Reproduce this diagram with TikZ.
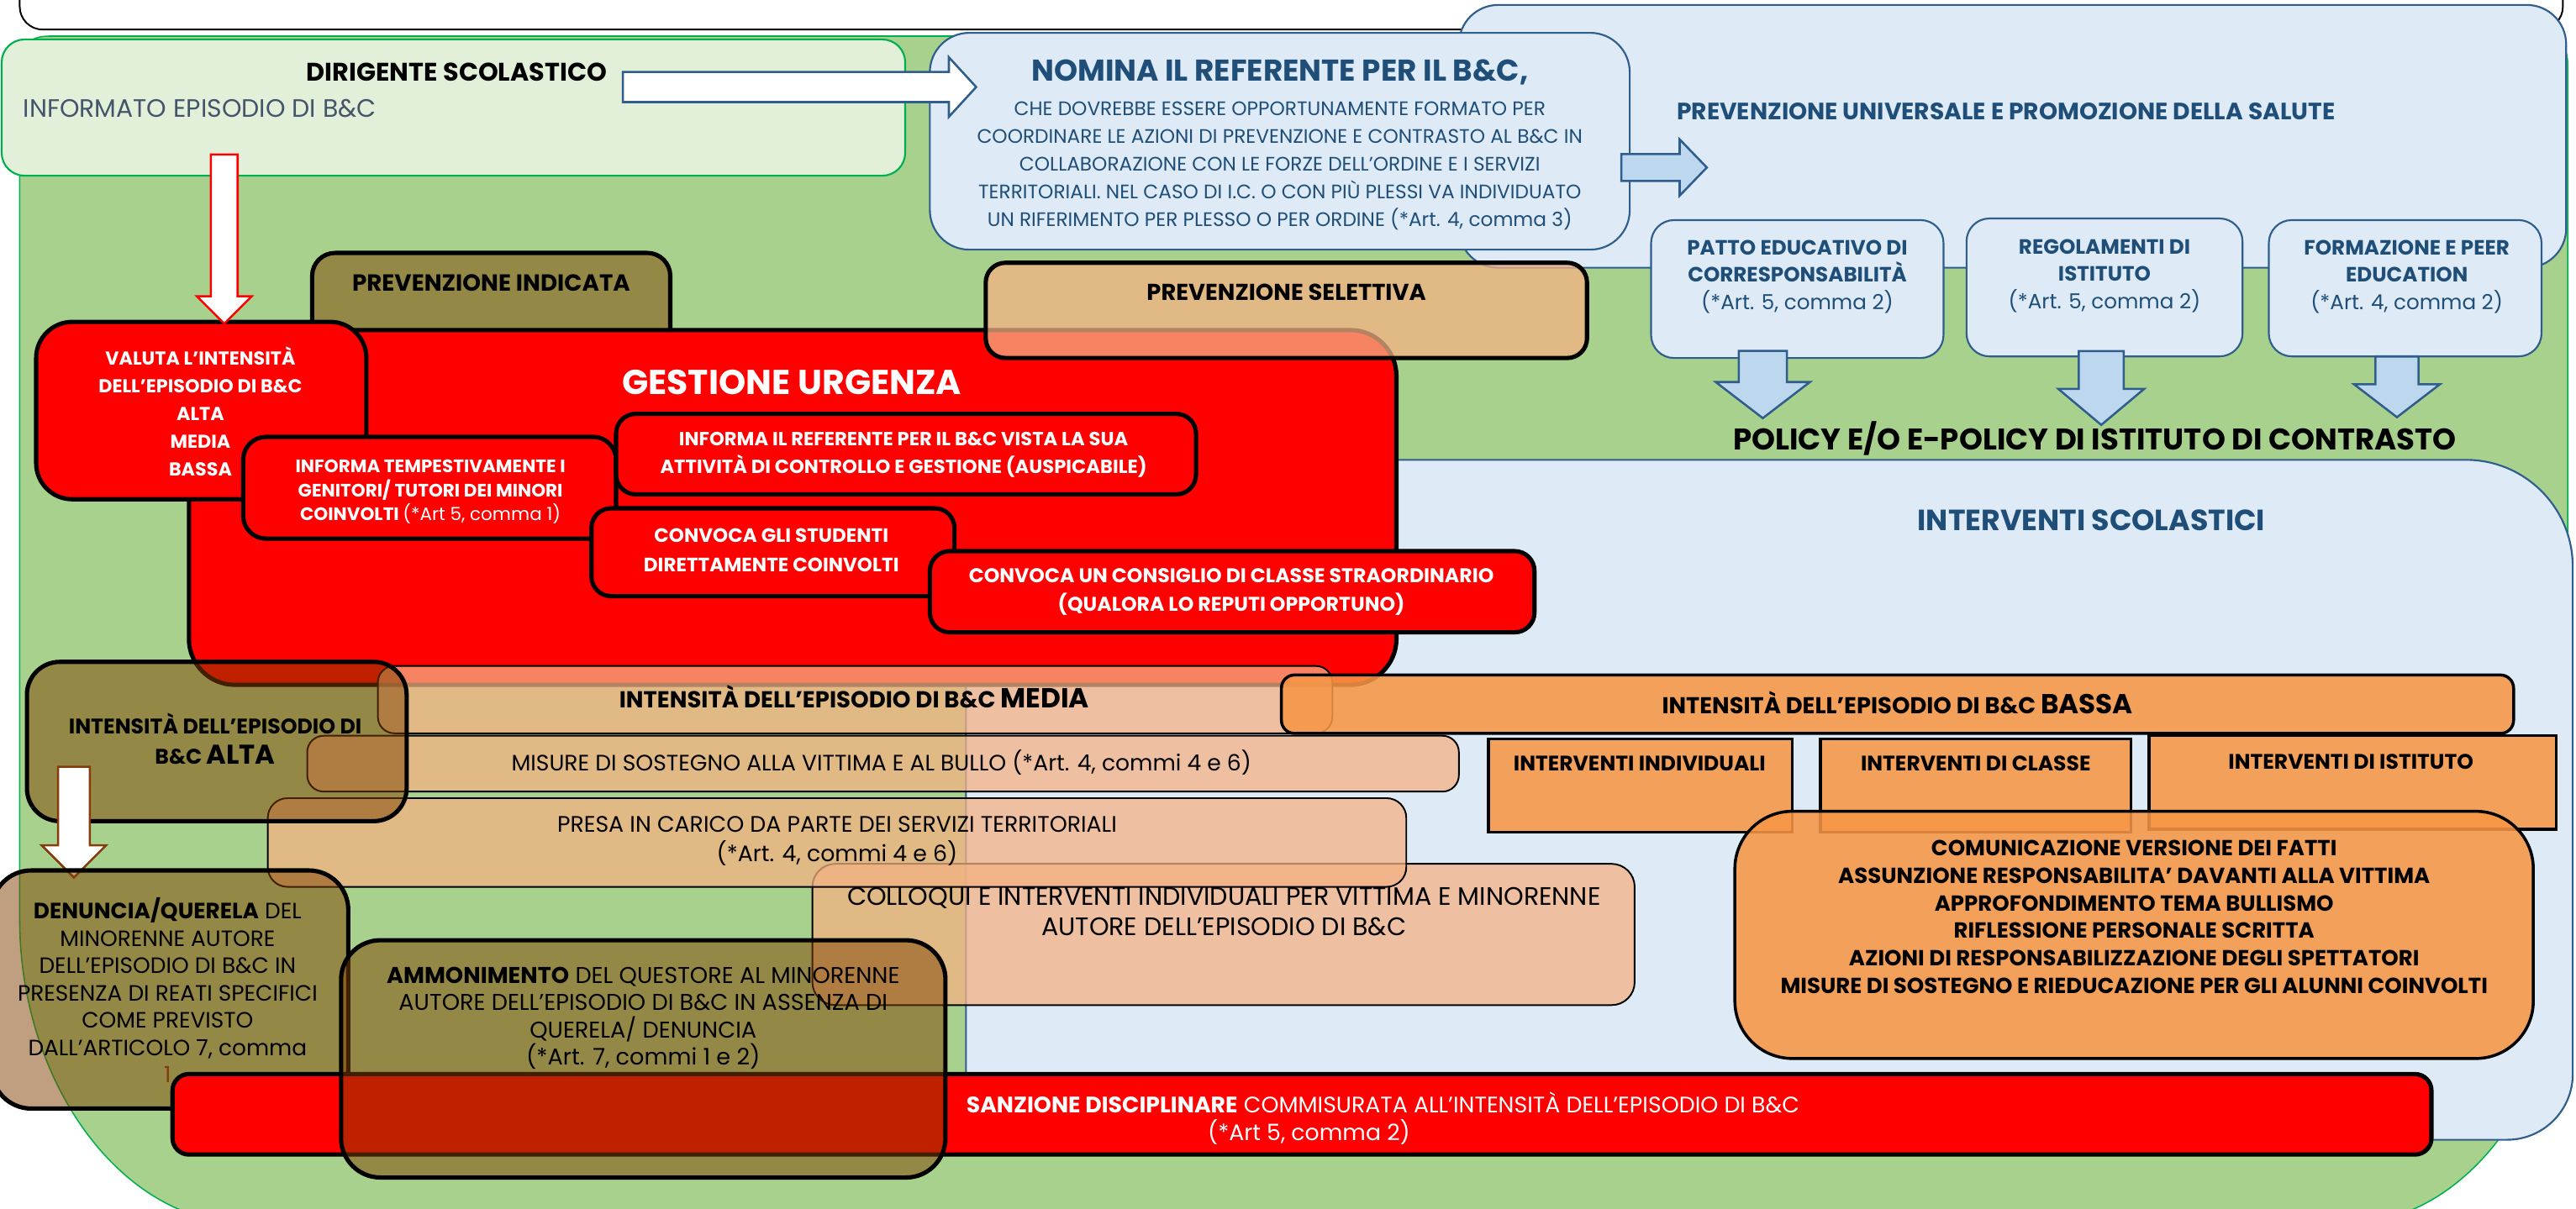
\documentclass[tikz,border=0pt]{standalone}
\usepackage{fontspec}
\setmainfont{Poppins}
\usepackage{tikz}
\usetikzlibrary{fit}
\usetikzlibrary{shapes.arrows}

\definecolor{verde}{HTML}{A9D18E}
\definecolor{verdeln}{HTML}{00B050}
\definecolor{verdech}{HTML}{E2F0D9}
\definecolor{azz}{HTML}{DEEBF7}
\definecolor{azzln}{HTML}{2F5D8C}
\definecolor{azzfr}{HTML}{BDD7EE}
\definecolor{blu}{HTML}{1F4E79}
\definecolor{ardesia}{HTML}{44546A}
\definecolor{marrone}{HTML}{804000}
\definecolor{marroneln}{HTML}{843C0C}
\definecolor{pesca}{HTML}{F4B183}
\definecolor{arancio}{HTML}{F79646}

\newcommand{\fs}[2]{\fontsize{#1}{#2}\selectfont}

\tikzset{
  azzbox/.style={draw=azzln, fill=azz, line width=1.1pt, inner sep=0pt, rounded corners=#1},
  azzbox/.default=14pt,
  rosso/.style={draw=black, fill=red, line width=2.6pt, inner sep=0pt, rounded corners=#1},
  rosso/.default=12pt,
  bruno/.style={draw=black, fill=marrone, fill opacity=0.5, line width=2.6pt, inner sep=0pt, rounded corners=#1},
  bruno/.default=20pt,
  pescabox/.style={draw=black, fill=pesca, fill opacity=0.74, line width=1pt, inner sep=0pt, rounded corners=#1},
  pescabox/.default=10pt,
  arancbox/.style={draw=black, fill=arancio, fill opacity=0.88, line width=1.8pt, inner sep=0pt, rounded corners=#1},
  arancbox/.default=0pt,
  txt/.style={inner sep=0pt, align=center},
  freccia/.style={single arrow, inner xsep=0pt, single arrow head indent=0pt, line width=1.3pt}
}

\begin{document}
\begin{tikzpicture}[x=1pt, y=-1pt]
  \useasboundingbox (0,0) rectangle (1568,736);
  \clip (0,0) rectangle (1568,736);

  \draw[fill=white, line width=1pt, rounded corners=14pt] (12,-30) rectangle (1560,18);
  \draw[fill=verde, draw=verdeln, line width=0.8pt] (12,40) .. controls (12,28) and (18,22) .. (30,22)
    -- (1546,22) .. controls (1558,22) and (1563,28) .. (1563,40) -- (1563,560)
    .. controls (1563,659) and (1504,745) .. (1428,745) -- (150,745)
    .. controls (74,745) and (12,659) .. (12,560) -- cycle;

  \node[azzbox=24pt, fit={(888,3) (1562,163)}] (puni) {};
  \node[txt, text=blu, font=\bfseries\fs{14.4}{17}] (puniT) at (1221,68) {PREVENZIONE UNIVERSALE E PROMOZIONE DELLA SALUTE};

  \node[draw=verdeln, fill=verdech, line width=1.1pt, rounded corners=14pt, inner sep=0pt, fit={(1,24) (551,107)}] (dir) {};
  \node[txt, font=\bfseries\fs{15.5}{18}] (dirT) at (278,44) {DIRIGENTE SCOLASTICO};
  \node[txt, anchor=west, text=ardesia, font=\fs{15.3}{17}] (dirS) at (14,66) {INFORMATO EPISODIO DI B\&C};

  \node[azzbox=24pt, fit={(566,20) (992,152)}] (nom) {};
  \node[txt, text=blu, font=\bfseries\fs{18.3}{20}] (nomT) at (779,44) {NOMINA IL REFERENTE PER IL B\&C,};
  \node[txt, text=blu, font=\fs{11.9}{17}] (nomS) at (779,101) {CHE DOVREBBE ESSERE OPPORTUNAMENTE FORMATO PER\\COORDINARE LE AZIONI DI PREVENZIONE E CONTRASTO AL B\&C IN\\COLLABORAZIONE CON LE FORZE DELL’ORDINE E I SERVIZI\\TERRITORIALI. NEL CASO DI I.C. O CON PIÙ PLESSI VA INDIVIDUATO\\UN RIFERIMENTO PER PLESSO O PER ORDINE (*Art. 4, comma 3)};

  \node[freccia, draw=azzln, fill=white, inner ysep=8.5pt, minimum height=215pt, single arrow head extend=9pt, single arrow tip angle=95] (a1) at (482.5,53) {};
  \node[freccia, draw=azzln, fill=azzfr, inner ysep=7.5pt, minimum height=52pt, single arrow head extend=9pt, single arrow tip angle=92] (a2) at (1009,102) {};

  \node[azzbox, fit={(1005,134) (1183,218)}] (pat) {};
  \node[txt, text=blu, font=\bfseries\fs{12.6}{16.5}] (patT) at (1094,168.5) {PATTO EDUCATIVO DI\\CORRESPONSABILITÀ\\{\mdseries(*Art. 5, comma 2)}};
  \node[azzbox, fit={(1197,133) (1365,217)}] (reg) {};
  \node[txt, text=blu, font=\bfseries\fs{12.6}{16.5}] (regT) at (1281,168) {REGOLAMENTI DI\\ISTITUTO\\{\mdseries(*Art. 5, comma 2)}};
  \node[azzbox, fit={(1381,134) (1547,217)}] (frm) {};
  \node[txt, text=blu, font=\bfseries\fs{12.6}{16.5}] (frmT) at (1465,168.5) {FORMAZIONE E PEER\\EDUCATION\\{\mdseries(*Art. 4, comma 2)}};

  \node[freccia, draw=azzln, fill=azzfr, rotate=-90, inner ysep=14pt, minimum height=41pt, single arrow head extend=14pt, single arrow tip angle=105] (a3) at (1073,228.5) {};
  \node[freccia, draw=azzln, fill=azzfr, rotate=-90, inner ysep=13pt, minimum height=45pt, single arrow head extend=12.5pt, single arrow tip angle=100] (a4) at (1279,230.5) {};
  \node[freccia, draw=azzln, fill=azzfr, rotate=-90, inner ysep=12.5pt, minimum height=37pt, single arrow head extend=13pt, single arrow tip angle=105] (a5) at (1459,230.5) {};

  \node[txt, font=\bfseries\fs{18.2}{20}] (pol) at (1275,267) {POLICY E/O E-POLICY DI ISTITUTO DI CONTRASTO};

  \draw[draw=azzln, fill=azz, line width=1.1pt] (588,500) [rounded corners=20pt] -- (588,280)
    [rounded corners=65pt] -- (1566,280) [rounded corners=40pt] -- (1566,694)
    [rounded corners=20pt] -- (588,694) -- cycle;
  \node[txt, text=blu, font=\bfseries\fs{17.8}{20}] (scolT) at (1273,317) {INTERVENTI SCOLASTICI};

  \node[bruno=14pt, fit={(190,154) (408,230)}] (pind) {};
  \node[txt, font=\bfseries\fs{14.2}{17}] (pindT) at (299,172) {PREVENZIONE INDICATA};

  \node[rosso=28pt, fit={(115,201) (850,417)}] (ges) {};
  \node[txt, text=white, font=\bfseries\fs{21}{24}] (gesT) at (482,233) {GESTIONE URGENZA};

  \node[rosso=22pt, fit={(22,196) (223,304)}] (val) {};
  \node[txt, text=white, font=\bfseries\fs{11.4}{17}] (valT) at (122,250.5) {VALUTA L’INTENSITÀ\\DELL’EPISODIO DI B\&C\\ALTA\\MEDIA\\BASSA};

  \node[rosso=14pt, fit={(148,266) (375,328)}] (inft) {};
  \node[txt, text=white, font=\bfseries\fs{11}{14.5}] (inftT) at (262,299.5) {INFORMA TEMPESTIVAMENTE I\\GENITORI/ TUTORI DEI MINORI\\COINVOLTI {\mdseries(*Art 5, comma 1)}};

  \node[rosso, fit={(375,252) (728,301)}] (infr) {};
  \node[txt, text=white, font=\bfseries\fs{11.6}{16.8}] (infrT) at (550,277) {INFORMA IL REFERENTE PER IL B\&C VISTA LA SUA\\ATTIVITÀ DI CONTROLLO E GESTIONE (AUSPICABILE)};

  \node[rosso, fit={(360,309.5) (581,363)}] (cstu) {};
  \node[txt, text=white, font=\bfseries\fs{11.8}{17.5}] (cstuT) at (469.5,335) {CONVOCA GLI STUDENTI\\DIRETTAMENTE COINVOLTI};

  \node[rosso, fit={(566,335.6) (934,385)}] (ccon) {};
  \node[txt, text=white, font=\bfseries\fs{12.1}{17.4}] (cconT) at (749.5,360.3) {CONVOCA UN CONSIGLIO DI CLASSE STRAORDINARIO\\(QUALORA LO REPUTI OPPORTUNO)};

  \node[freccia, draw=red, fill=white, rotate=-90, inner ysep=7.5pt, minimum height=103pt, single arrow head extend=8.5pt, single arrow tip angle=90] (a6) at (136.5,141.5) {};

  \node[pescabox=12pt, draw=black, line width=2.6pt, fit={(600,160) (966,218)}] (psel) {};
  \node[txt, font=\bfseries\fs{14}{16}] (pselT) at (783,178) {PREVENZIONE SELETTIVA};

  \node[pescabox=14pt, fit={(494.5,526) (995,612)}] (col) {};
  \node[txt, font=\fs{15.4}{18.4}] (colT) at (745,555) {COLLOQUI E INTERVENTI INDIVIDUALI PER VITTIMA E MINORENNE\\AUTORE DELL’EPISODIO DI B\&C};

  \node[pescabox=12pt, fit={(163,486) (856,540)}] (pre) {};
  \node[txt, font=\fs{13.7}{17.7}] (preT) at (509.5,512) {PRESA IN CARICO DA PARTE DEI SERVIZI TERRITORIALI\\(*Art. 4, commi 4 e 6)};

  \node[pescabox, fit={(187,448) (888,482)}] (mis) {};
  \node[txt, font=\fs{13.6}{14}] (misT) at (536.5,464.5) {MISURE DI SOSTEGNO ALLA VITTIMA E AL BULLO (*Art. 4, commi 4 e 6)};

  \node[pescabox, fit={(230,405.5) (811,446.5)}] (med) {};
  \node[txt, font=\bfseries\fs{14.1}{16}] (medT) at (520,424) {INTENSITÀ DELL’EPISODIO DI B\&C {\fs{16.8}{16}MEDIA}};

  \node[arancbox=8pt, fit={(780,411) (1530,446.6)}] (bas) {};
  \node[txt, font=\bfseries\fs{14}{16}] (basT) at (1155,428) {INTENSITÀ DELL’EPISODIO DI B\&C {\fs{16.7}{16}BASSA}};

  \node[arancbox, fit={(906,450) (1091,506.6)}] (ind) {};
  \node[txt, font=\bfseries\fs{12.8}{14}] (indT) at (998,465) {INTERVENTI INDIVIDUALI};
  \node[arancbox, fit={(1108,450) (1297,506.6)}] (cla) {};
  \node[txt, font=\bfseries\fs{12.8}{14}] (claT) at (1202.6,465) {INTERVENTI DI CLASSE};
  \node[arancbox, fit={(1308,448) (1556,505)}] (ist) {};
  \node[txt, font=\bfseries\fs{12.8}{14}] (istT) at (1431,464) {INTERVENTI DI ISTITUTO};

  \node[arancbox=35pt, fit={(1056,494) (1542,644.5)}] (lst) {};
  \node[txt, font=\bfseries\fs{13.3}{16.7}] (lstT) at (1299,558.3) {COMUNICAZIONE VERSIONE DEI FATTI\\ASSUNZIONE RESPONSABILITA’ DAVANTI ALLA VITTIMA\\APPROFONDIMENTO TEMA BULLISMO\\RIFLESSIONE PERSONALE SCRITTA\\AZIONI DI RESPONSABILIZZAZIONE DEGLI SPETTATORI\\MISURE DI SOSTEGNO E RIEDUCAZIONE PER GLI ALUNNI COINVOLTI};

  \node[bruno, fit={(16.4,403) (247.5,500)}] (alt) {};
  \node[txt, font=\bfseries\fs{12.9}{18.5}] (altT) at (131,450) {INTENSITÀ DELL’EPISODIO DI\\B\&C {\fs{16.5}{18.5}ALTA}};

  \node[freccia, draw=marroneln, fill=white, rotate=-90, inner ysep=9pt, minimum height=67.5pt, single arrow head extend=10pt, single arrow tip angle=90] (a7) at (45,495.75) {};

  \node[bruno=24pt, fit={(-5,530) (212,675)}] (den) {};
  \node[txt, font=\fs{13.5}{16.6}] (denT) at (102,603) {\textbf{DENUNCIA/QUERELA} DEL\\MINORENNE AUTORE\\DELL’EPISODIO DI B\&C IN\\PRESENZA DI REATI SPECIFICI\\COME PREVISTO\\DALL’ARTICOLO 7, comma\\{\color{marroneln}1}};

  \node[rosso=10pt, fit={(105,654) (1480,703)}] (san) {};
  \node[txt, anchor=west, align=left, text=white, font=\fs{13.7}{17}] (sanT) at (588,681) {\textbf{SANZIONE DISCIPLINARE} COMMISURATA ALL’INTENSITÀ DELL’EPISODIO DI B\&C\\\hspace*{147pt}(*Art 5, comma 2)};

  \node[bruno=24pt, fit={(207.6,572.5) (575.5,717)}] (amm) {};
  \node[txt, font=\fs{13.9}{16.5}] (ammT) at (391.5,620) {\textbf{AMMONIMENTO} DEL QUESTORE AL MINORENNE\\AUTORE DELL’EPISODIO DI B\&C IN ASSENZA DI\\QUERELA/ DENUNCIA\\(*Art. 7, commi 1 e 2)};
\end{tikzpicture}
\end{document}
